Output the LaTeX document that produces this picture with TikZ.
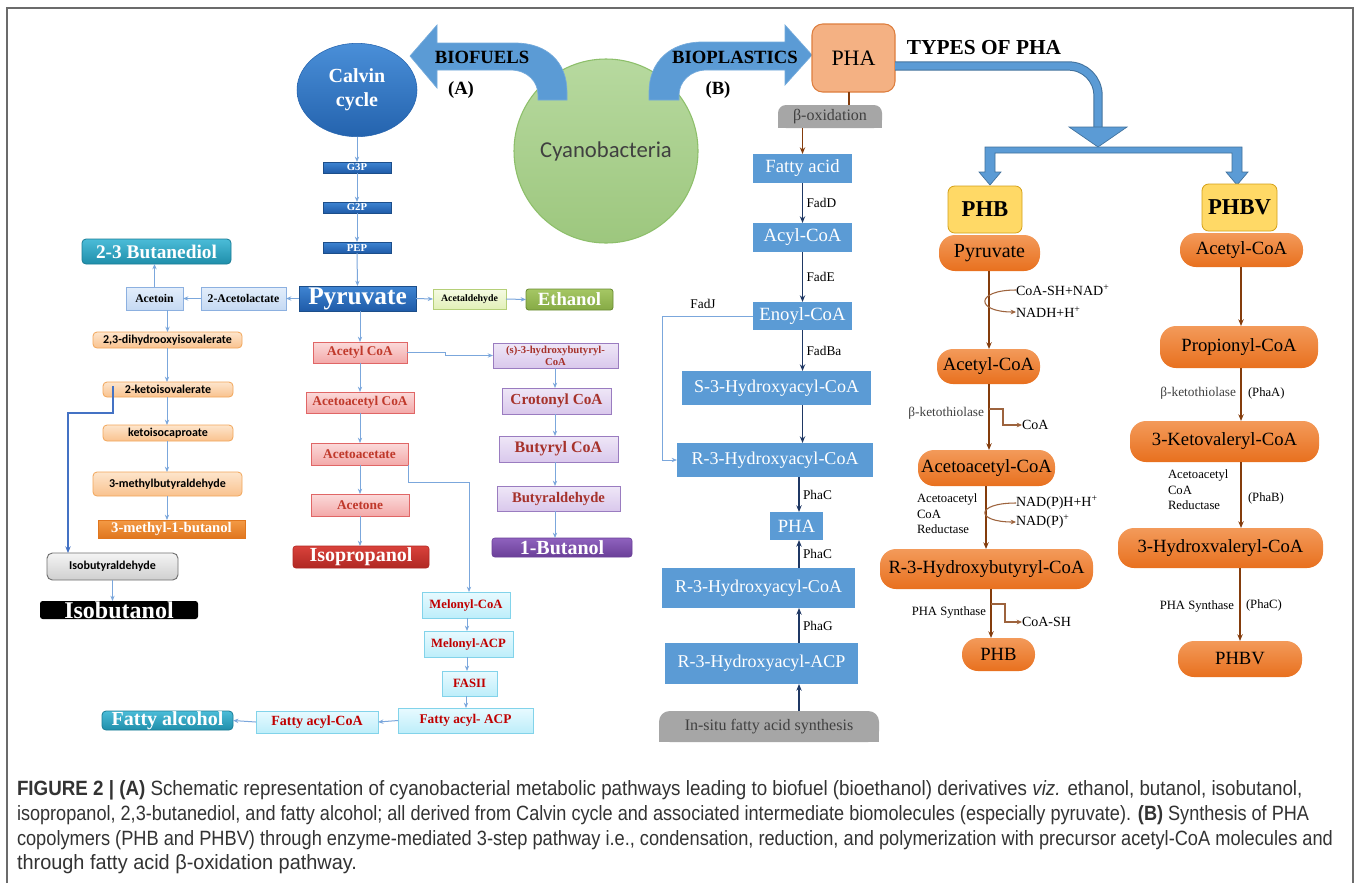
\documentclass[tikz,border=0pt]{standalone}
\usepackage{graphicx}
\usepackage{fontspec}
\setmainfont{Liberation Serif}
\newfontfamily\calibrif{Carlito}
\newfontfamily\figcapfont[FakeStretch=0.92]{Liberation Sans}
\usetikzlibrary{arrows.meta,calc,shapes.geometric}
\newcommand\fz[1]{\fontsize{#1}{\fpeval{1.2*#1}}\selectfont}
\definecolor{framegray}{HTML}{6B6B6B}
\definecolor{lblue}{HTML}{7BA7DC}
\definecolor{dblue}{HTML}{4472C4}
\definecolor{navy}{HTML}{1F3864}
\definecolor{brownc}{HTML}{843C0C}
\definecolor{bluebox}{HTML}{5B9BD5}
\definecolor{bdark}{HTML}{41719C}
\definecolor{orgA}{HTML}{F39A5A}
\definecolor{orgB}{HTML}{E8701E}
\definecolor{yel}{HTML}{FFD966}
\definecolor{yeld}{HTML}{D4A017}
\definecolor{phaf}{HTML}{F4B183}
\definecolor{phad}{HTML}{DD7E3E}
\definecolor{grayb}{HTML}{A6A6A6}
\definecolor{grayt}{HTML}{404040}
\definecolor{grnA}{HTML}{B7D99F}
\definecolor{grnB}{HTML}{9DC77E}
\definecolor{grnD}{HTML}{8DBF6A}
\definecolor{calA}{HTML}{4A8FD8}
\definecolor{calB}{HTML}{2463AE}
\definecolor{pyA}{HTML}{3F85D3}
\definecolor{pyB}{HTML}{1F5BA8}
\definecolor{pyD}{HTML}{1C4E8A}
\definecolor{lbA}{HTML}{E3EEFB}
\definecolor{lbB}{HTML}{C5D9F3}
\definecolor{lbD}{HTML}{8CB0E0}
\definecolor{tlA}{HTML}{4BBCD8}
\definecolor{tlB}{HTML}{1F8EAA}
\definecolor{tlD}{HTML}{1A7D96}
\definecolor{peA}{HTML}{FDE5CC}
\definecolor{peB}{HTML}{F9C28E}
\definecolor{peD}{HTML}{F2A65A}
\definecolor{moA}{HTML}{F39A45}
\definecolor{moB}{HTML}{E0761E}
\definecolor{grA}{HTML}{F4F4F4}
\definecolor{grB}{HTML}{CFCFCF}
\definecolor{grD}{HTML}{707070}
\definecolor{pkA}{HTML}{FBDADA}
\definecolor{pkB}{HTML}{F3A9A9}
\definecolor{pkD}{HTML}{E06666}
\definecolor{pkT}{HTML}{C0392B}
\definecolor{rdA}{HTML}{D9423B}
\definecolor{rdB}{HTML}{B02823}
\definecolor{puA}{HTML}{EFE7F7}
\definecolor{puB}{HTML}{D9C8EC}
\definecolor{puD}{HTML}{9A7CC0}
\definecolor{puT}{HTML}{A6322B}
\definecolor{bnA}{HTML}{8F62BE}
\definecolor{bnB}{HTML}{6A3F98}
\definecolor{agA}{HTML}{F5FAE3}
\definecolor{agB}{HTML}{E2F0B8}
\definecolor{agD}{HTML}{B5CF78}
\definecolor{etA}{HTML}{A5C764}
\definecolor{etB}{HTML}{86AA45}
\definecolor{etD}{HTML}{6A8C33}
\definecolor{cyA}{HTML}{E8FAFF}
\definecolor{cyB}{HTML}{BDEEFA}
\definecolor{cyD}{HTML}{82D3EA}
\definecolor{cyT}{HTML}{C00000}
\definecolor{capgray}{HTML}{333333}
\tikzset{
  bx/.style args={#1/#2/#3/#4}{minimum width={(#3-#1)*0.75pt}, minimum height={(#4-#2)*0.75pt}, at={({(#1+#3)/2},{(#2+#4)/2})}},
  lar/.style={draw=lblue, line width=0.75pt, -{Stealth[length=4pt,width=3.2pt]}},
  dar/.style={draw=dblue, line width=1pt, -{Stealth[length=5pt,width=4pt]}},
  nar/.style={draw=navy, line width=1.1pt, -{Stealth[length=5pt,width=4pt]}},
  brar/.style={draw=brownc, line width=1.1pt, -{Stealth[length=5pt,width=4pt]}},
  sar/.style={draw=brownc!80, line width=0.8pt, -{Stealth[length=4pt,width=3.5pt]}},
  gbox/.style={top color=pyA, bottom color=pyB, draw=pyD, line width=0.5pt, text=white, font=\bfseries\fz{8}},
  lbbox/.style={top color=lbA, bottom color=lbB, draw=lbD, line width=0.6pt, font=\bfseries\fz{8.8}},
  tlbox/.style={top color=tlA, bottom color=tlB, draw=tlD, line width=0.6pt, rounded corners=3pt, text=white, font=\bfseries\fz{14.5}},
  pebox/.style={top color=peA, bottom color=peB, draw=peD, line width=0.6pt, rounded corners=3pt, font=\calibrif\bfseries\fz{9}},
  pkbox/.style={top color=pkA, bottom color=pkB, draw=pkD, line width=0.6pt, text=pkT, font=\bfseries\fz{10}},
  pubox/.style={top color=puA, bottom color=puB, draw=puD, line width=0.6pt, text=puT, font=\bfseries\fz{11.5}},
  cybox/.style={top color=cyA, bottom color=cyB, draw=cyD, line width=0.6pt, text=cyT, font=\bfseries\fz{9.5}},
  bbox/.style={fill=bluebox, text=white, font=\fz{14}},
  pill/.style={rounded corners=12pt, top color=orgA, bottom color=orgB, font=\fz{14}},
  ybox/.style={fill=yel, draw=yeld, line width=0.6pt, rounded corners=5pt, font=\bfseries\fz{17}},
  lbl/.style={font=\fz{10}},
  capline/.style={anchor=base west, text=capgray, font=\figcapfont\fz{15.5}},
}
\begin{document}
\begin{tikzpicture}[x=0.75pt,y=-0.75pt, every node/.style={inner sep=0pt, outer sep=0pt}]
\useasboundingbox (0,0) rectangle (1358,883);
\fill[white] (0,0) rectangle (1358,883);
\draw[framegray, line width=1pt] (7,883) -- (7,8) -- (1353,8) -- (1353,883);

% ---------- top ----------
\node[circle, minimum size=138pt, top color=grnA, bottom color=grnB, draw=grnD, line width=0.8pt, font=\calibrif\fz{17}, text=grayt] (cyano) at (606,151) {Cyanobacteria};
\filldraw[fill=bluebox, draw=bluebox!85!white, line width=0.5pt] (567,100) -- (567,92) .. controls (567,62) and (547,43) .. (515,43) -- (437,43) -- (437,25) -- (410,56) -- (437,88) -- (437,70) -- (510,70) .. controls (528,70) and (538,82) .. (538,95) -- (538,100) -- cycle;
\filldraw[fill=bluebox, draw=bluebox!85!white, line width=0.5pt] (649,100) -- (649,92) .. controls (649,62) and (670,42) .. (702,42) -- (785,42) -- (785,25) -- (812,55) -- (785,85) -- (785,70) -- (707,70) .. controls (690,70) and (679,82) .. (679,95) -- (679,100) -- cycle;
\node[font=\bfseries\fz{14}] (tbf) at (482,57) {BIOFUELS};
\node[font=\bfseries\fz{14}] (ta) at (461,90) {(A)};
\node[font=\bfseries\fz{14}] (tbp) at (735,57) {BIOPLASTICS};
\node[font=\bfseries\fz{14}] (tb) at (718,90) {(B)};

\node[ellipse, minimum width=90pt, minimum height=70pt, top color=calA, bottom color=calB, draw=calB, text=white, font=\bfseries\fz{15}, align=center] (calvin) at (357,90) {Calvin\\cycle};

% ---------- (A) biofuels ----------
\node[gbox, bx=323/162/391/173] (g3p) {G3P};
\node[gbox, bx=323/202/391/213] (g2p) {G2P};
\node[gbox, bx=323/242/391/253] (pep) {PEP};
\node[gbox, bx=299/286/416/311, font=\bfseries\fz{19}] (pyr) {Pyruvate};
\node[lbbox, bx=201/287/286/310] (acl) {2-Acetolactate};
\node[lbbox, bx=126/287/183/310] (acetoin) {Acetoin};
\node[tlbox, bx=82/239/231/264] (bdiol) {2-3 Butanediol};
\node[pebox, bx=93/332/242/348] (dhiv) {2,3-dihydrooxyisovalerate};
\node[pebox, bx=103/382/233/397] (kiv) {2-ketoisovalerate};
\node[pebox, bx=103/425/233/441] (kic) {ketoisocaproate};
\node[pebox, bx=93/472/242/496] (mba) {3-methylbutyraldehyde};
\node[bx=98/520/245/538, top color=moA, bottom color=moB, draw=moB, text=white, font=\bfseries\fz{11}] (mbol) {3-methyl-1-butanol};
\node[bx=47/553/178/580, top color=grA, bottom color=grB, draw=grD, line width=0.7pt, rounded corners=4pt, font=\calibrif\bfseries\fz{9}] (iba) {Isobutyraldehyde};
\node[bx=40/601/198/619, fill=black, rounded corners=2pt, text=white, font=\bfseries\fz{18}] (isob) {Isobutanol};

\node[bx=433/289/506/309, top color=agA, bottom color=agB, draw=agD, line width=0.6pt, font=\bfseries\fz{7.4}] (acald) {Acetaldehyde};
\node[bx=526/289/613/310, top color=etA, bottom color=etB, draw=etD, line width=0.6pt, rounded corners=2pt, text=white, font=\bfseries\fz{14}] (ethanol) {Ethanol};

\node[pkbox, bx=313/342/407/363] (acoa) {Acetyl CoA};
\node[pkbox, bx=306/392/414/413] (aacoa) {Acetoacetyl CoA};
\node[pkbox, bx=311/443/408/465] (aca) {Acetoacetate};
\node[pkbox, bx=311/494/409/516] (acetone) {Acetone};
\node[bx=293/546/429/568, top color=rdA, bottom color=rdB, draw=rdB, rounded corners=2pt, text=white, font=\bfseries\fz{15}] (iprop) {Isopropanol};

\node[pubox, bx=493/343/618/368, font=\bfseries\fontsize{8}{9}\selectfont, align=center] (hb) {(s)-3-hydroxybutyryl-\\CoA};
\node[pubox, bx=502/388/611/414] (crot) {Crotonyl CoA};
\node[pubox, bx=499/436/618/462, font=\bfseries\fz{12}] (buty) {Butyryl CoA};
\node[pubox, bx=497/486/620/511, font=\bfseries\fz{11}] (bald) {Butyraldehyde};
\node[bx=492/538/632/557, top color=bnA, bottom color=bnB, draw=bnB, rounded corners=2pt, text=white, font=\bfseries\fz{15}] (butanol) {1-Butanol};

\node[cybox, bx=422/592/510/618] (mcoa) {Melonyl-CoA};
\node[cybox, bx=424/631/513/657] (macp) {Melonyl-ACP};
\node[cybox, bx=442/671/497/696] (fas) {FASII};
\node[cybox, bx=398/708/533/733, font=\bfseries\fz{10}] (facp) {Fatty acyl- ACP};
\node[cybox, bx=256/711/378/733, font=\bfseries\fz{10.5}] (facoa) {Fatty acyl-CoA};
\node[tlbox, bx=102/711/233/730, font=\bfseries\fz{15}] (falc) {Fatty alcohol};

% (A) connectors
\draw[lar] (calvin.south) -- (g3p.north);
\draw[lar] (g3p.south) -- (g2p.north);
\draw[lar] (g2p.south) -- (pep.north);
\draw[lar] (pep.south) -- (pyr.north);
\draw[lar] (pyr.west) -- (acl.east);
\draw[lar] (acl.west) -- (acetoin.east);
\draw[lar] (acetoin.north) -- (acetoin.north |- bdiol.south);
\draw[lar] (dhiv.north |- acetoin.south) -- (dhiv.north);
\draw[lar] (167,0 |- dhiv.south) -- (167,0 |- kiv.north);
\draw[lar] (167,0 |- kiv.south) -- (167,0 |- kic.north);
\draw[lar] (167,0 |- kic.south) -- (167,0 |- mba.north);
\draw[lar] (167,0 |- mba.south) -- (167,0 |- mbol.north);
\coordinate (kv1) at (113,386);
\draw[dar] (kv1) |- (68,413) -- (68,0 |- iba.north);
\draw[lar] (iba.south) -- (iba.south |- isob.north);
\draw[lar] (pyr.east) -- (acald.west);
\draw[lar] (acald.east) -- (ethanol.west);
\draw[lar] (360,0 |- pyr.south) -- (360,0 |- acoa.north);
\draw[lar] (360,0 |- acoa.south) -- (360,0 |- aacoa.north);
\draw[lar] (360,0 |- aacoa.south) -- (360,0 |- aca.north);
\draw[lar] (360,0 |- aca.south) -- (360,0 |- acetone.north);
\draw[lar] (360,0 |- acetone.south) -- (360,0 |- iprop.north);
\draw[lar] (acoa.east) -- ++(38,0) |- (hb.west);
\draw[lar] (555,0 |- hb.south) -- (555,0 |- crot.north);
\draw[lar] (555,0 |- crot.south) -- (555,0 |- buty.north);
\draw[lar] (555,0 |- buty.south) -- (555,0 |- bald.north);
\draw[lar] (555,0 |- bald.south) -- (555,0 |- butanol.north);
\draw[lar] (aca.south east) -- ++(0,17) -| (469,0 |- mcoa.north);
\draw[lar] (467,0 |- mcoa.south) -- (467,0 |- macp.north);
\draw[lar] (467,0 |- macp.south) -- (467,0 |- fas.north);
\draw[lar] (466,0 |- fas.south) -- (466,0 |- facp.north);
\draw[lar] (facp.west) -- (facoa.east);
\draw[lar] (facoa.west) -- (falc.east);

% ---------- (B) bioplastics ----------
\node[bx=812/24/895/92, fill=phaf, draw=phad, line width=0.8pt, rounded corners=8pt, font=\fz{16.5}] (pha) {PHA};
\node[font=\bfseries\fz{16}] (types) at (984,48) {TYPES OF PHA};
\fill[grayb, rounded corners=6pt] (778,105) rectangle (882,128);
\fill[grayb] (778,116) rectangle (882,128);
\node[bx=778/105/882/128, text=grayt, font=\fz{12}] (boxi) {β-oxidation};
\fill[grayb, rounded corners=8pt] (659,711) rectangle (879,742);
\fill[grayb] (659,725) rectangle (879,742);
\node[bx=659/711/879/742, text=grayt, font=\fz{12}] (insitu) {In-situ fatty acid synthesis};

\node[bbox, bx=753/154/852/183] (fa) {Fatty acid};
\node[bbox, bx=753/223/852/252] (acyl) {Acyl-CoA};
\node[bbox, bx=753/302/852/330] (enoyl) {Enoyl-CoA};
\node[bbox, bx=682/371/871/405, font=\fz{13.5}] (s3) {S-3-Hydroxyacyl-CoA};
\node[bbox, bx=677/443/873/477, font=\fz{13.5}] (r3) {R-3-Hydroxyacyl-CoA};
\node[bbox, bx=770/512/823/540] (pha2) {PHA};
\node[bbox, bx=662/568/855/608, font=\fz{13.5}] (r3b) {R-3-Hydroxyacyl-CoA};
\node[bbox, bx=665/643/858/684, font=\fz{13.5}] (acp) {R-3-Hydroxyacyl-ACP};

\draw[brownc, line width=1pt] (pha.south -| 849,0) -- (boxi.north -| 849,0);
\draw[brar] (fa.north |- boxi.south) -- (fa.north);
\draw[nar] (fa.south) -- (acyl.north) node[midway, right=3pt, lbl] {FadD};
\draw[nar] (acyl.south) -- (enoyl.north) node[midway, right=3pt, lbl] {FadE};
\draw[nar] (enoyl.south) -- (enoyl.south |- s3.north) node[midway, right=3pt, lbl] {FadBa};
\draw[nar] (s3.south -| enoyl.south) -- (r3.north -| enoyl.south);
\draw[nar] (r3.south -| 799,0) -- (pha2.north -| 799,0) node[midway, right=3pt, lbl] {PhaC};
\draw[nar] (r3b.north -| 799,0) -- (pha2.south -| 799,0) node[midway, right=3pt, lbl] {PhaC};
\draw[nar] (acp.north -| 799,0) -- (r3b.south -| 799,0) node[midway, right=3pt, lbl] {PhaG};
\draw[nar] (insitu.north -| 799,0) -- (acp.south -| 799,0);
\draw[lar] (enoyl.west) -- ++(-91,0) |- (r3.west);
\node[lbl] (fadj) at (703,304) {FadJ};

% types of PHA arrow
\draw[line width=0.75pt, draw=bdark, double=bluebox, double distance=5.5pt, rounded corners=22pt] (pha.east |- 0,66) -- (1098,66) -- (1098,128);
\filldraw[fill=bluebox, draw=bdark, line width=0.5pt] (1069,127) -- (1127,127) -- (1098,147) -- cycle;
\filldraw[fill=bluebox, draw=bdark, line width=0.5pt] (985,147) -- (1242,147) -- (1242,172) -- (1248,172) -- (1237,185) -- (1226,172) -- (1232,172) -- (1232,153) -- (995,153) -- (995,172) -- (1001,172) -- (990,185) -- (979,172) -- (985,172) -- cycle;

% PHB column
\node[ybox, bx=948/186/1022/233] (phb) {PHB};
\node[pill, bx=939/235/1040/271, font=\fz{15}] (p1) {Pyruvate};
\node[pill, bx=937/349/1040/384] (p2) {Acetyl-CoA};
\node[pill, bx=918/450/1055/486] (p3) {Acetoacetyl-CoA};
\node[pill, bx=880/549/1093/589] (p4) {R-3-Hydroxybutyryl-CoA};
\node[pill, bx=962/638/1035/671] (p5) {PHB};
\draw[brar] (p1.south -| 989,0) -- (p2.north -| 989,0);
\draw[brar] (p2.south -| 989,0) -- (p3.north -| 989,0);
\draw[brar] (p3.south -| 986,0) -- (p4.north -| 986,0);
\draw[brar] (p4.south -| 991,0) -- (p5.north -| 991,0);
\node[anchor=west, font=\fz{10.5}] (cs1) at (1016,290) {CoA-SH+NAD\textsuperscript{+}};
\node[anchor=west, font=\fz{10.5}] (cs2) at (1016,312) {NADH+H\textsuperscript{+}};
\draw[sar] (cs1.west) .. controls (975,290) and (975,312) .. (cs2.west);
\node[anchor=east, font=\fz{10}, text=grayt] (bk1) at (984,413) {β-ketothiolase};
\coordinate (k1) at (989,409);
\node[anchor=west, font=\fz{10.5}] (coa1) at (1022,425) {CoA};
\draw[sar] (k1) -- (1003,409) |- (coa1.west);
\node[anchor=north west, align=left, font=\fz{9.5}] (acr1) at (917,494) {Acetoacetyl\\CoA\\Reductase};
\node[anchor=west, font=\fz{10.5}] (np1) at (1016,503) {NAD(P)H+H\textsuperscript{+}};
\node[anchor=west, font=\fz{10.5}] (np2) at (1016,522) {NAD(P)\textsuperscript{+}};
\draw[sar] (np1.west) .. controls (975,503) and (975,522) .. (np2.west);
\node[anchor=east, font=\fz{9.5}] (ps1) at (986,612) {PHA Synthase};
\coordinate (k2) at (991,604);
\node[anchor=west, font=\fz{10.5}] (coash) at (1022,622) {CoA-SH};
\draw[sar] (k2) -- (1005,604) |- (coash.west);

% PHBV column
\node[ybox, bx=1202/184/1277/231] (phbv) {PHBV};
\node[pill, bx=1180/233/1303/267] (v1) {Acetyl-CoA};
\node[pill, bx=1160/326/1318/368] (v2) {Propionyl-CoA};
\node[pill, bx=1130/421/1319/462] (v3) {3-Ketovaleryl-CoA};
\node[pill, bx=1118/528/1323/568] (v4) {3-Hydroxvaleryl-CoA};
\node[pill, bx=1178/641/1302/677] (v5) {PHBV};
\draw[brar] (v1.south -| 1241,0) -- (v2.north -| 1241,0);
\draw[brar] (v2.south -| 1241,0) -- (v3.north -| 1241,0);
\draw[brar] (v3.south -| 1241,0) -- (v4.north -| 1241,0);
\draw[brar] (v4.south -| 1240,0) -- (v5.north -| 1240,0);
\node[anchor=east, font=\fz{10}, text=grayt] (bk2) at (1236,393) {β-ketothiolase};
\node[anchor=west, font=\fz{9.5}] (phaA) at (1248,393) {(PhaA)};
\node[anchor=north west, align=left, font=\fz{9.5}] (acr2) at (1168,470) {Acetoacetyl\\CoA\\Reductase};
\node[anchor=west, font=\fz{9.5}] (phaB) at (1248,498) {(PhaB)};
\node[anchor=east, font=\fz{9.5}] (ps2) at (1234,606) {PHA Synthase};
\node[anchor=west, font=\fz{9.5}] (phaC) at (1246,605) {(PhaC)};

% caption
\node[capline] (cap1) at (17,795) {\resizebox{964pt}{\height}{\textbf{FIGURE 2 | (A)} Schematic representation of cyanobacterial metabolic pathways leading to biofuel (bioethanol) derivatives \textit{viz.} ethanol, butanol, isobutanol,}};
\node[capline] (cap2) at (17,820) {\resizebox{969pt}{\height}{isopropanol, 2,3-butanediol, and fatty alcohol; all derived from Calvin cycle and associated intermediate biomolecules (especially pyruvate). \textbf{(B)} Synthesis of PHA}};
\node[capline] (cap3) at (17,845) {\resizebox{987pt}{\height}{copolymers (PHB and PHBV) through enzyme-mediated 3-step pathway i.e., condensation, reduction, and polymerization with precursor acetyl-CoA molecules and}};
\node[capline] (cap4) at (17,869) {\resizebox{255pt}{\height}{through fatty acid β-oxidation pathway.}};
\end{tikzpicture}
\end{document}
